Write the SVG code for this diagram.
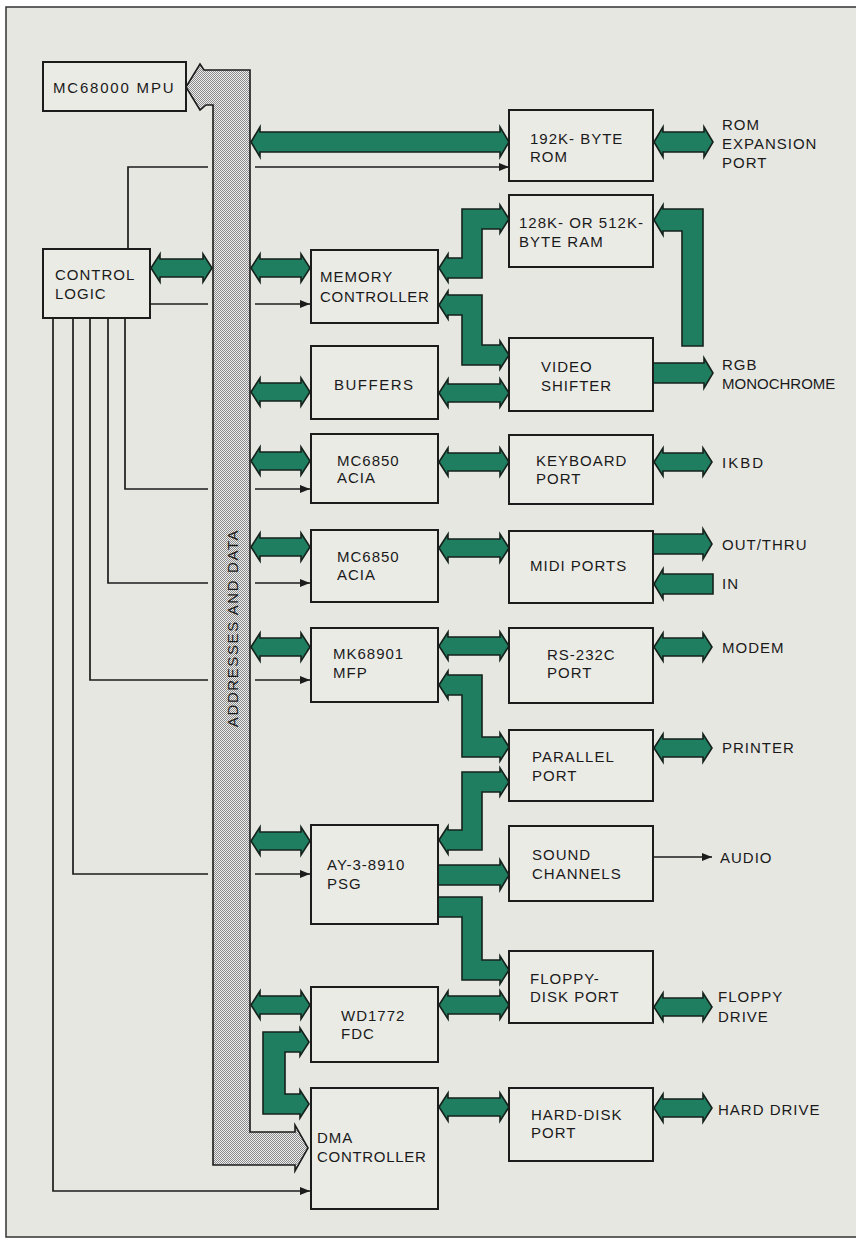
<svg xmlns="http://www.w3.org/2000/svg" width="856" height="1241" viewBox="0 0 856 1241">
<style>
.bg{fill:#e7e7e2}
.box{fill:#ebebe6;stroke:#1c1c1c;stroke-width:2}
.t{font-family:"Liberation Sans",Arial,sans-serif;font-size:15px;letter-spacing:1px;fill:#1a1a1a}
.g{fill:#1f7d60;stroke:#15221c;stroke-width:1.6;stroke-linejoin:miter}
.bus{fill:url(#stip);stroke:#1c1c1c;stroke-width:1.6}
.ln{fill:none;stroke:#1c1c1c;stroke-width:1.7}
</style>
<defs>
<pattern id="stip" width="2" height="2" patternUnits="userSpaceOnUse">
<rect width="2" height="2" fill="#eeeeee"/>
<rect x="0" y="0" width="1" height="1" fill="#8a8a8a"/>
<rect x="1" y="1" width="1" height="1" fill="#8a8a8a"/>
</pattern>
<marker id="ah" viewBox="0 0 10 8" refX="10" refY="4" markerWidth="11" markerHeight="8" orient="auto" markerUnits="userSpaceOnUse">
<path d="M0,0 L10,4 L0,8 Z" fill="#1c1c1c"/>
</marker>
</defs>
<rect width="856" height="1241" fill="#ffffff"/>
<rect x="6" y="7" width="860" height="1230" class="bg" stroke="#333" stroke-width="1.5"/>

<g id="bus">
<path class="bus" d="M250,70 L250,1132 L295,1132 L295,1125 L308,1148 L295,1171 L295,1165 L213,1165 L213,105 L206,105 L200,110 L186,87 L200,64 L204,70 Z"/>
<text class="t" transform="translate(238,628) rotate(-90)" text-anchor="middle" style="letter-spacing:1.6px">ADDRESSES AND DATA</text>
</g>

<g id="connectors">
<path class="ln" d="M128,249 V167 H208"/>
<path class="ln" d="M255,167 H509" marker-end="url(#ah)"/>
<path class="ln" d="M150,304 H208"/>
<path class="ln" d="M255,304 H310" marker-end="url(#ah)"/>
<path class="ln" d="M125,318 V489 H208"/>
<path class="ln" d="M255,489 H310" marker-end="url(#ah)"/>
<path class="ln" d="M108,318 V583 H208"/>
<path class="ln" d="M255,583 H310" marker-end="url(#ah)"/>
<path class="ln" d="M90,318 V680 H208"/>
<path class="ln" d="M255,680 H310" marker-end="url(#ah)"/>
<path class="ln" d="M73,318 V874 H208"/>
<path class="ln" d="M255,874 H310" marker-end="url(#ah)"/>
<path class="ln" d="M53,318 V1191 H310" marker-end="url(#ah)"/>
<path class="ln" d="M653,857 H712" marker-end="url(#ah)"/>

<path class="g" d="M151,268 L160,254 L160,259 L203,259 L203,254 L212,268 L203,282 L203,277 L160,277 L160,282 Z"/>
<path class="g" d="M251,268 L260,254 L260,259 L301,259 L301,254 L310,268 L301,282 L301,277 L260,277 L260,282 Z"/>
<path class="g" d="M251,142 L260,127 L260,132 L500,132 L500,127 L509,142 L500,157 L500,152 L260,152 L260,157 Z"/>
<path class="g" d="M654,142 L663,127 L663,132 L704,132 L704,127 L713,142 L704,157 L704,152 L663,152 L663,157 Z"/>
<path class="g" d="M251,392 L260,378 L260,383 L301,383 L301,378 L310,392 L301,406 L301,401 L260,401 L260,406 Z"/>
<path class="g" d="M439,393 L448,379 L448,384 L500,384 L500,379 L509,393 L500,407 L500,402 L448,402 L448,407 Z"/>
<path class="g" d="M251,461 L260,447 L260,452 L301,452 L301,447 L310,461 L301,475 L301,470 L260,470 L260,475 Z"/>
<path class="g" d="M439,462 L448,448 L448,453 L500,453 L500,448 L509,462 L500,476 L500,471 L448,471 L448,476 Z"/>
<path class="g" d="M654,462 L663,448 L663,453 L703,453 L703,448 L712,462 L703,476 L703,471 L663,471 L663,476 Z"/>
<path class="g" d="M251,547 L260,533 L260,538 L301,538 L301,533 L310,547 L301,561 L301,556 L260,556 L260,561 Z"/>
<path class="g" d="M439,548 L448,534 L448,539 L500,539 L500,534 L509,548 L500,562 L500,557 L448,557 L448,562 Z"/>
<path class="g" d="M251,647 L260,633 L260,638 L301,638 L301,633 L310,647 L301,661 L301,656 L260,656 L260,661 Z"/>
<path class="g" d="M439,646 L448,632 L448,637 L500,637 L500,632 L509,646 L500,660 L500,655 L448,655 L448,660 Z"/>
<path class="g" d="M654,647 L663,633 L663,638 L703,638 L703,633 L712,647 L703,661 L703,656 L663,656 L663,661 Z"/>
<path class="g" d="M654,748 L663,734 L663,739 L703,739 L703,734 L712,748 L703,762 L703,757 L663,757 L663,762 Z"/>
<path class="g" d="M251,841 L260,827 L260,832 L301,832 L301,827 L310,841 L301,855 L301,850 L260,850 L260,855 Z"/>
<path class="g" d="M654,1007 L663,993 L663,998 L703,998 L703,993 L712,1007 L703,1021 L703,1016 L663,1016 L663,1021 Z"/>
<path class="g" d="M251,1005 L260,991 L260,996 L301,996 L301,991 L310,1005 L301,1019 L301,1014 L260,1014 L260,1019 Z"/>
<path class="g" d="M439,1005 L448,991 L448,996 L500,996 L500,991 L509,1005 L500,1019 L500,1014 L448,1014 L448,1019 Z"/>
<path class="g" d="M439,1107 L448,1093 L448,1098 L500,1098 L500,1093 L509,1107 L500,1121 L500,1116 L448,1116 L448,1121 Z"/>
<path class="g" d="M654,1108 L663,1094 L663,1099 L703,1099 L703,1094 L712,1108 L703,1122 L703,1117 L663,1117 L663,1122 Z"/>

<path class="g" d="M653,363 L704,363 L704,358 L713,373 L704,388 L704,383 L653,383 Z"/>
<path class="g" d="M653,534 L703,534 L703,529 L712,544 L703,559 L703,554 L653,554 Z"/>
<path class="g" d="M713,574 L663,574 L663,569 L654,584 L663,599 L663,594 L713,594 Z"/>
<path class="g" d="M438,865 L500,865 L500,860 L509,875 L500,890 L500,885 L438,885 Z"/>
<path class="g" d="M682,346 L682,231 L663,231 L663,235 L654,220 L663,205 L663,209 L703,209 L703,346 Z"/>

<path class="g" d="M439,268 L448,254 L448,258 L462,258 L462,209 L500,209 L500,205 L509,219 L500,233 L500,229 L482,229 L482,278 L448,278 L448,282 Z"/>
<path class="g" d="M439,305 L448,291 L448,295 L482,295 L482,345 L500,345 L500,341 L509,355 L500,369 L500,365 L462,365 L462,315 L448,315 L448,319 Z"/>
<path class="g" d="M439,685 L448,671 L448,675 L482,675 L482,737 L500,737 L500,733 L509,747 L500,761 L500,757 L462,757 L462,695 L448,695 L448,699 Z"/>
<path class="g" d="M439,840 L448,826 L448,830 L462,830 L462,772 L500,772 L500,768 L509,782 L500,796 L500,792 L482,792 L482,850 L448,850 L448,854 Z"/>
<path class="g" d="M438,897 L482,897 L482,960 L500,960 L500,956 L509,970 L500,984 L500,980 L462,980 L462,917 L438,917 Z"/>
<path class="g" d="M263,1032 L300,1032 L300,1028 L309,1042 L300,1056 L300,1052 L285,1052 L285,1094 L300,1094 L300,1090 L309,1104 L300,1118 L300,1114 L263,1114 Z"/>
</g>

<g id="mpu"><rect class="box" x="43" y="62" width="143" height="49"/><text class="t" x="53" y="93" style="letter-spacing:1.8px">MC68000 MPU</text></g>
<g id="control-logic"><rect class="box" x="43" y="249" width="107" height="69"/><text class="t" x="55" y="280">CONTROL</text><text class="t" x="55" y="299">LOGIC</text></g>
<g id="rom"><rect class="box" x="509" y="110" width="144" height="71"/><text class="t" x="530" y="144">192K- BYTE</text><text class="t" x="530" y="162">ROM</text></g>
<g id="ram"><rect class="box" x="509" y="195" width="144" height="72"/><text class="t" x="519" y="228">128K- OR 512K-</text><text class="t" x="519" y="247">BYTE RAM</text></g>
<g id="memory-controller"><rect class="box" x="311" y="250" width="127" height="73"/><text class="t" x="320" y="282">MEMORY</text><text class="t" x="320" y="302" style="letter-spacing:0.7px">CONTROLLER</text></g>
<g id="video-shifter"><rect class="box" x="509" y="338" width="144" height="73"/><text class="t" x="541" y="372">VIDEO</text><text class="t" x="541" y="391">SHIFTER</text></g>
<g id="buffers"><rect class="box" x="311" y="346" width="127" height="73"/><text class="t" x="334" y="390" style="letter-spacing:1.5px">BUFFERS</text></g>
<g id="acia1"><rect class="box" x="311" y="434" width="127" height="69"/><text class="t" x="337" y="466">MC6850</text><text class="t" x="337" y="483">ACIA</text></g>
<g id="keyboard-port"><rect class="box" x="509" y="435" width="144" height="69"/><text class="t" x="536" y="466">KEYBOARD</text><text class="t" x="536" y="484">PORT</text></g>
<g id="acia2"><rect class="box" x="311" y="530" width="127" height="72"/><text class="t" x="337" y="562">MC6850</text><text class="t" x="337" y="580">ACIA</text></g>
<g id="midi-ports"><rect class="box" x="509" y="531" width="144" height="72"/><text class="t" x="530" y="571">MIDI PORTS</text></g>
<g id="mfp"><rect class="box" x="311" y="628" width="127" height="74"/><text class="t" x="333" y="659">MK68901</text><text class="t" x="333" y="678">MFP</text></g>
<g id="rs232-port"><rect class="box" x="509" y="628" width="144" height="75"/><text class="t" x="547" y="660">RS-232C</text><text class="t" x="547" y="678">PORT</text></g>
<g id="parallel-port"><rect class="box" x="509" y="730" width="144" height="71"/><text class="t" x="532" y="762">PARALLEL</text><text class="t" x="532" y="781">PORT</text></g>
<g id="psg"><rect class="box" x="311" y="825" width="127" height="99"/><text class="t" x="327" y="870">AY-3-8910</text><text class="t" x="327" y="889">PSG</text></g>
<g id="sound-channels"><rect class="box" x="509" y="826" width="144" height="75"/><text class="t" x="532" y="860">SOUND</text><text class="t" x="532" y="879">CHANNELS</text></g>
<g id="floppy-port"><rect class="box" x="509" y="951" width="144" height="72"/><text class="t" x="530" y="984">FLOPPY-</text><text class="t" x="530" y="1002">DISK PORT</text></g>
<g id="fdc"><rect class="box" x="311" y="987" width="127" height="75"/><text class="t" x="341" y="1021">WD1772</text><text class="t" x="341" y="1039">FDC</text></g>
<g id="dma-controller"><rect class="box" x="311" y="1088" width="127" height="121"/><text class="t" x="317" y="1143">DMA</text><text class="t" x="317" y="1162" style="letter-spacing:0.7px">CONTROLLER</text></g>
<g id="hard-disk-port"><rect class="box" x="509" y="1088" width="144" height="73"/><text class="t" x="531" y="1120">HARD-DISK</text><text class="t" x="531" y="1138">PORT</text></g>

<g id="labels">
<text class="t" x="722" y="130">ROM</text>
<text class="t" x="722" y="149">EXPANSION</text>
<text class="t" x="722" y="168">PORT</text>
<text class="t" x="722" y="370">RGB</text>
<text class="t" x="722" y="389" style="letter-spacing:0px">MONOCHROME</text>
<text class="t" x="722" y="468" style="letter-spacing:2px">IKBD</text>
<text class="t" x="722" y="550">OUT/THRU</text>
<text class="t" x="722" y="589">IN</text>
<text class="t" x="722" y="653">MODEM</text>
<text class="t" x="722" y="753">PRINTER</text>
<text class="t" x="720" y="863">AUDIO</text>
<text class="t" x="718" y="1002">FLOPPY</text>
<text class="t" x="718" y="1022">DRIVE</text>
<text class="t" x="718" y="1115">HARD DRIVE</text>
</g>
</svg>
